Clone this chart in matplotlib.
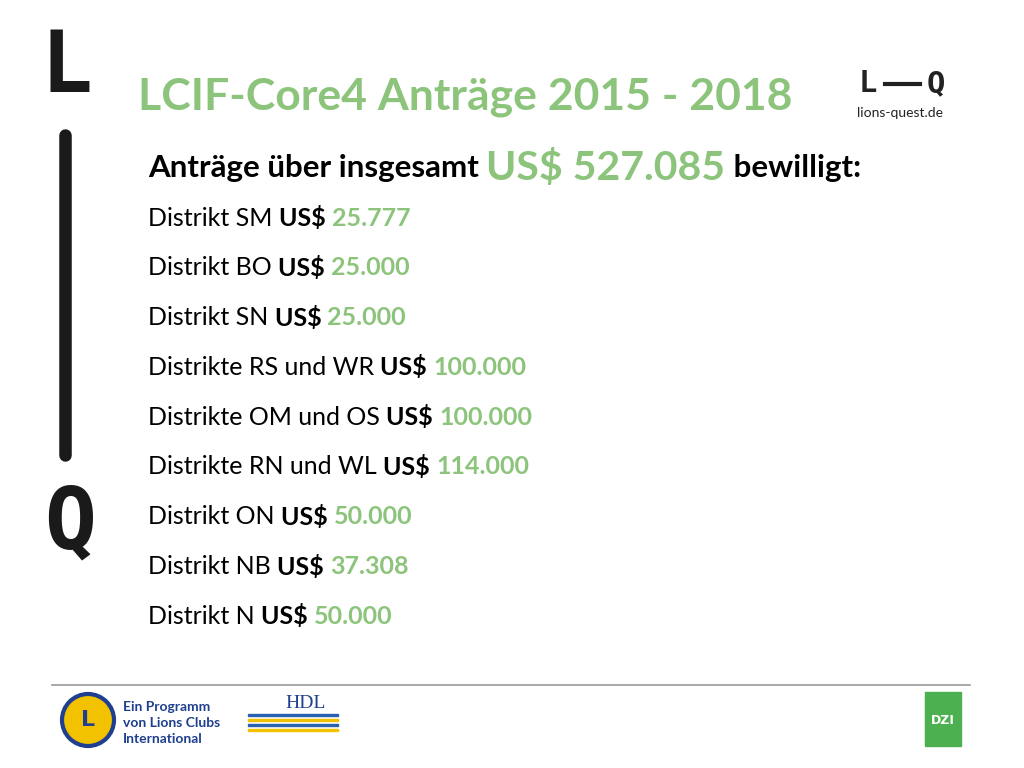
import matplotlib
matplotlib.use("Agg")
import matplotlib.pyplot as plt
from matplotlib.patches import Ellipse, Rectangle

title = "LCIF-Core4 Anträge 2015 - 2018"
total_label = "US$ 527.085"
districts = ["Distrikt SM", "Distrikt BO", "Distrikt SN", "Distrikte RS und WR",
             "Distrikte OM und OS", "Distrikte RN und WL", "Distrikt ON",
             "Distrikt NB", "Distrikt N"]
amounts = ["25.777", "25.000", "25.000", "100.000", "100.000", "114.000",
           "50.000", "37.308", "50.000"]

GREEN = "#8cc47c"
FONT = "Lato"
W, H = 1024, 768
fig = plt.figure(figsize=(10.24, 7.68), dpi=100)
fig.patch.set_facecolor("white")
r = fig.canvas.get_renderer()

def px(x, y):
    return x / W, 1 - y / H

def seq(x, y, parts):
    for txt, size, color, weight in parts:
        t = fig.text(*px(x, y), txt, fontsize=size, color=color, fontweight=weight,
                     family=FONT, va="center", ha="left")
        x += t.get_window_extent(r).width

# left L — Q
fig.text(*px(66, 68), "L", fontsize=62, fontweight="bold", family="DejaVu Sans Mono",
         ha="center", va="center", color="#1a1a1a")
fig.add_artist(plt.Line2D([65/W, 65/W], [1-135/H, 1-455/H], color="#1a1a1a", lw=9,
                          solid_capstyle="round"))
fig.text(*px(70, 525), "Q", fontsize=62, fontweight="bold", family="DejaVu Sans Mono",
         ha="center", va="center", color="#1a1a1a")

fig.text(*px(138, 97), title, fontsize=32, color=GREEN, fontweight="bold",
         family=FONT, va="center")

# top-right logo
fig.text(*px(868, 84), "L", fontsize=22, fontweight="bold", family="DejaVu Sans Mono",
         ha="center", va="center", color="#222")
fig.add_artist(plt.Line2D([885/W, 920/W], [1-84/H, 1-84/H], color="#222", lw=3))
fig.text(*px(936, 84), "Q", fontsize=22, fontweight="bold", family="DejaVu Sans Mono",
         ha="center", va="center", color="#222")
fig.text(*px(900, 113), "lions-quest.de", fontsize=10, family=FONT,
         ha="center", va="center", color="#222")

seq(148, 168, [("Anträge über insgesamt ", 22.5, "black", "bold"),
               (total_label, 29.5, GREEN, "bold"),
               (" bewilligt:", 22.5, "black", "bold")])

for i, (d, a) in enumerate(zip(districts, amounts)):
    y = 218 + i * 49.8
    seq(148, y, [(d + " ", 18, "black", "normal"),
                 ("US$ ", 18, "black", "bold"),
                 (a, 18, GREEN, "bold")])

fig.add_artist(plt.Line2D([52/W, 970/W], [1-685/H, 1-685/H], color="#999", lw=1.2))

# footer logos (approximate)
fig.add_artist(Ellipse(px(88, 720), 52/W, 52/H, transform=fig.transFigure,
                       facecolor="#f2c200", edgecolor="#1f3f8f", lw=3))
fig.text(*px(88, 720), "L", fontsize=16, fontweight="bold", color="#1f3f8f",
         ha="center", va="center")
for j, s in enumerate(["Ein Programm", "von Lions Clubs", "International"]):
    fig.text(*px(123, 707 + j * 16), s, fontsize=10, fontweight="bold",
             color="#1f3f8f", va="center", family=FONT)
fig.text(*px(285, 704), "HDL", fontsize=14, color="#1f3f8f", va="center", family="Liberation Serif")
for k in range(4):
    fig.add_artist(Rectangle(px(248, 716 + k * 5), 90/W, 2.5/H, transform=fig.transFigure,
                             color="#2a62b0" if k % 2 == 0 else "#f2c200"))
fig.add_artist(Rectangle(px(925, 746), 36/W, 54/H, transform=fig.transFigure,
                         color="#4caf50"))
fig.text(*px(943, 720), "DZI", fontsize=9, fontweight="bold", color="white",
         ha="center", va="center")

fig.savefig("out.png", dpi=100, facecolor="white")
